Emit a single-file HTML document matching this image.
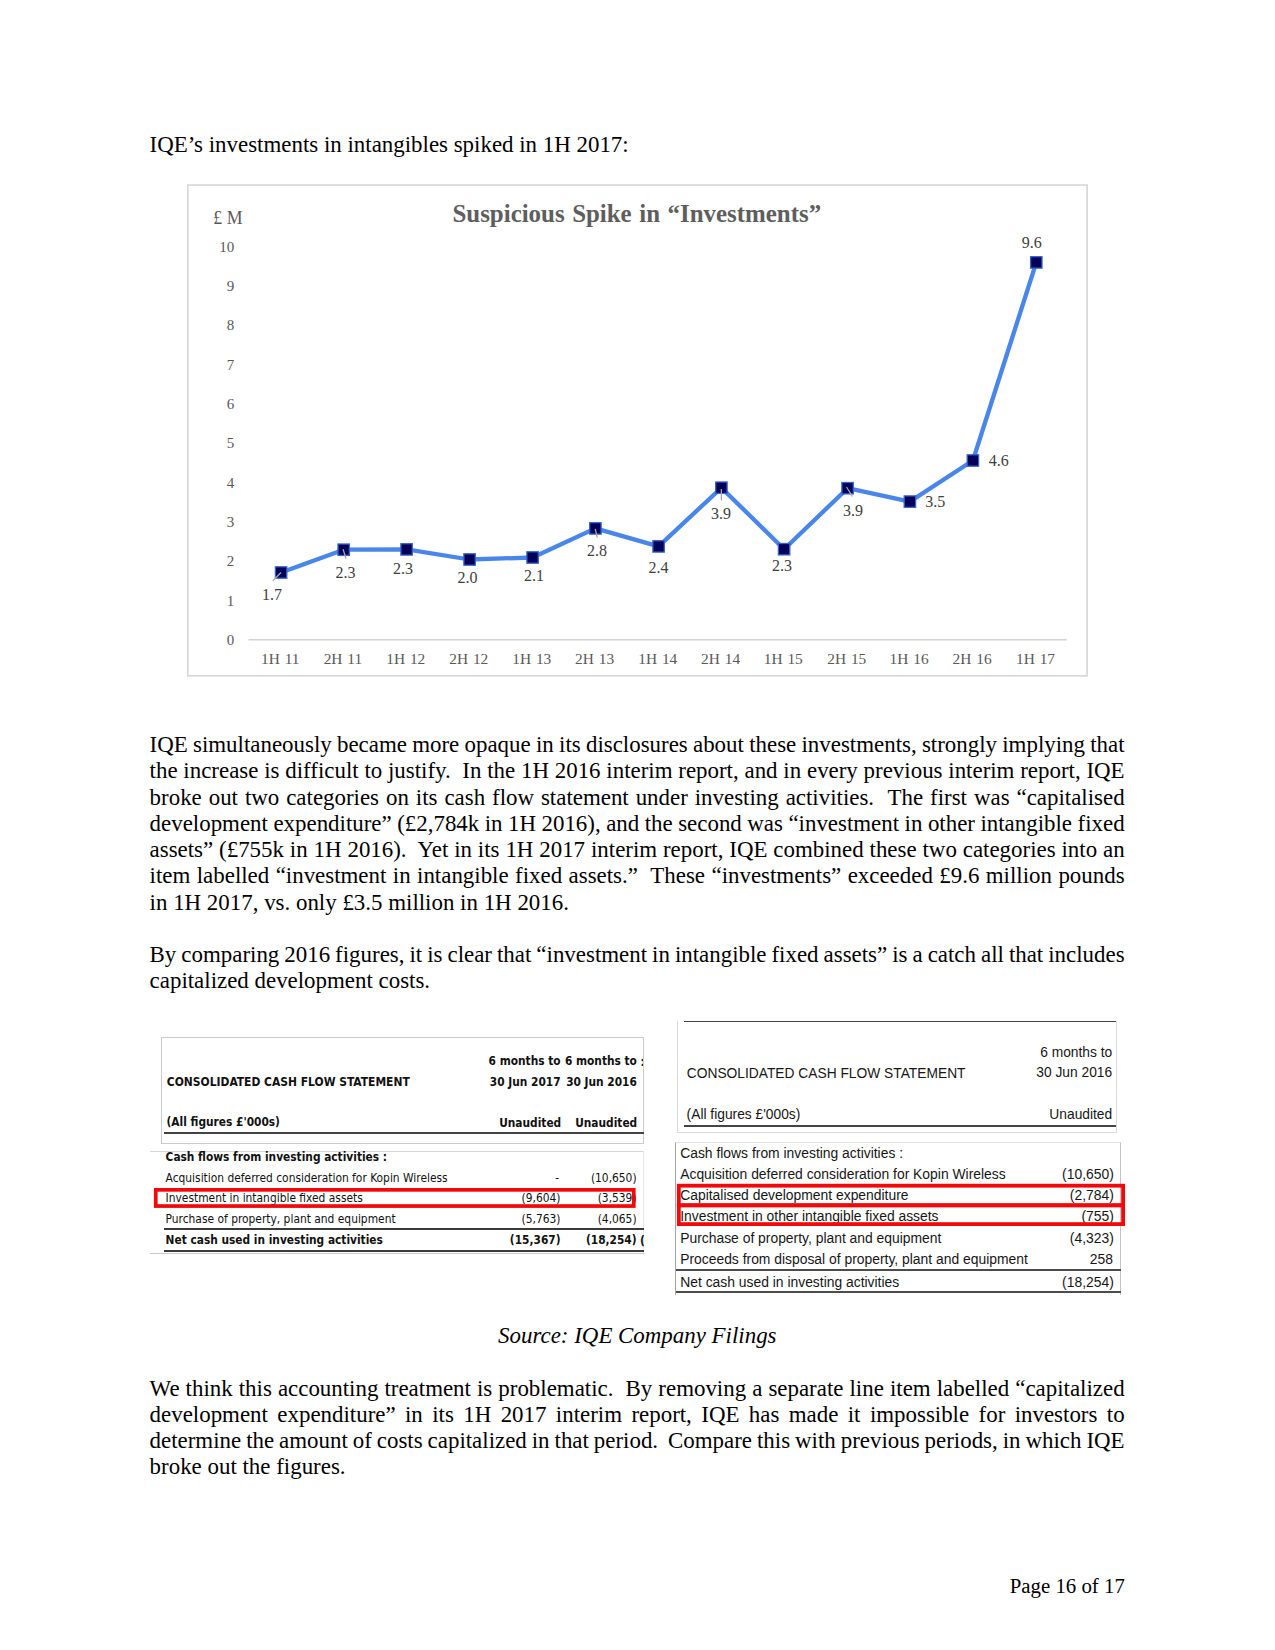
<!DOCTYPE html>
<html><head><meta charset="utf-8"><title>Page 16</title>
<style>
html,body{margin:0;padding:0;background:#fff;}
body{width:1275px;height:1650px;position:relative;overflow:hidden;font-family:"Liberation Serif","Times New Roman",serif;color:#000;}
.l{position:absolute;font-size:22.92px;line-height:26px;white-space:nowrap;height:26px;}
.abs{position:absolute;}
.t1{position:absolute;font-family:"DejaVu Sans Condensed","DejaVu Sans",sans-serif;font-size:11.88px;line-height:16px;white-space:nowrap;color:#111;}
.t1.b{font-weight:bold;font-size:11.8px;}
.t2{position:absolute;font-family:"Liberation Sans",Arial,sans-serif;font-size:13.79px;line-height:16px;white-space:nowrap;color:#161616;}
.r{text-align:right;}
.hl{position:absolute;height:0;}
</style></head><body>

<div class="l" style="left:149.6px;top:132.00px;">IQE’s investments in intangibles spiked in 1H 2017:</div>
<div class="l" style="left:149.6px;top:732.00px;word-spacing:-0.460px;">IQE simultaneously became more opaque in its disclosures about these investments, strongly implying that</div>
<div class="l" style="left:149.6px;top:758.25px;word-spacing:0.058px;">the increase is difficult to justify.&nbsp; In the 1H 2016 interim report, and in every previous interim report, IQE</div>
<div class="l" style="left:149.6px;top:784.50px;word-spacing:1.209px;">broke out two categories on its cash flow statement under investing activities.&nbsp; The first was “capitalised</div>
<div class="l" style="left:149.6px;top:810.75px;word-spacing:-0.240px;">development expenditure” (£2,784k in 1H 2016), and the second was “investment in other intangible fixed</div>
<div class="l" style="left:149.6px;top:837.00px;word-spacing:0.154px;">assets” (£755k in 1H 2016).&nbsp; Yet in its 1H 2017 interim report, IQE combined these two categories into an</div>
<div class="l" style="left:149.6px;top:863.25px;word-spacing:0.704px;">item labelled “investment in intangible fixed assets.”&nbsp; These “investments” exceeded £9.6 million pounds</div>
<div class="l" style="left:149.6px;top:889.50px;">in 1H 2017, vs. only £3.5 million in 1H 2016.</div>
<div class="l" style="left:149.6px;top:942.20px;word-spacing:-0.716px;">By comparing 2016 figures, it is clear that “investment in intangible fixed assets” is a catch all that includes</div>
<div class="l" style="left:149.6px;top:968.45px;">capitalized development costs.</div>
<div class="l" style="left:498.1px;top:1322.80px;"><i>Source: IQE Company Filings</i></div>
<div class="l" style="left:149.6px;top:1375.50px;word-spacing:0.329px;">We think this accounting treatment is problematic.&nbsp; By removing a separate line item labelled “capitalized</div>
<div class="l" style="left:149.6px;top:1401.75px;word-spacing:3.675px;">development expenditure” in its 1H 2017 interim report, IQE has made it impossible for investors to</div>
<div class="l" style="left:149.6px;top:1428.00px;word-spacing:-0.760px;">determine the amount of costs capitalized in that period.&nbsp; Compare this with previous periods, in which IQE</div>
<div class="l" style="left:149.6px;top:1454.25px;">broke out the figures.</div>
<div class="l" style="left:1009.7px;top:1573.70px;font-size:20.83px;line-height:24px;height:24px;">Page 16 of 17</div>
<svg class="abs" style="left:0;top:0" width="1275" height="700" viewBox="0 0 1275 700" font-family="Liberation Serif, Times New Roman, serif">
<rect x="187.8" y="185.05" width="899.3" height="490.75" fill="#fff" stroke="#d8d8d8" stroke-width="1.7"/>
<line x1="248.5" y1="639.7" x2="1066.9" y2="639.7" stroke="#d4d4d4" stroke-width="1.4"/>
<text x="452.5" y="222" font-size="24.9" font-weight="bold" fill="#5e5e5e" word-spacing="1.37">Suspicious Spike in “Investments”</text>
<text x="213.3" y="223.8" font-size="17.8" fill="#595959">£ M</text>
<text x="234.3" y="644.8" font-size="15" fill="#595959" text-anchor="end">0</text>
<text x="234.3" y="605.5" font-size="15" fill="#595959" text-anchor="end">1</text>
<text x="234.3" y="566.2" font-size="15" fill="#595959" text-anchor="end">2</text>
<text x="234.3" y="526.8" font-size="15" fill="#595959" text-anchor="end">3</text>
<text x="234.3" y="487.5" font-size="15" fill="#595959" text-anchor="end">4</text>
<text x="234.3" y="448.2" font-size="15" fill="#595959" text-anchor="end">5</text>
<text x="234.3" y="408.9" font-size="15" fill="#595959" text-anchor="end">6</text>
<text x="234.3" y="369.6" font-size="15" fill="#595959" text-anchor="end">7</text>
<text x="234.3" y="330.2" font-size="15" fill="#595959" text-anchor="end">8</text>
<text x="234.3" y="290.9" font-size="15" fill="#595959" text-anchor="end">9</text>
<text x="234.3" y="251.6" font-size="15" fill="#595959" text-anchor="end">10</text>
<text x="280.3" y="663.6" font-size="15.4" fill="#595959" text-anchor="middle" word-spacing="1">1H 11</text>
<text x="342.9" y="663.6" font-size="15.4" fill="#595959" text-anchor="middle" word-spacing="1">2H 11</text>
<text x="405.8" y="663.6" font-size="15.4" fill="#595959" text-anchor="middle" word-spacing="1">1H 12</text>
<text x="468.8" y="663.6" font-size="15.4" fill="#595959" text-anchor="middle" word-spacing="1">2H 12</text>
<text x="531.8" y="663.6" font-size="15.4" fill="#595959" text-anchor="middle" word-spacing="1">1H 13</text>
<text x="594.6" y="663.6" font-size="15.4" fill="#595959" text-anchor="middle" word-spacing="1">2H 13</text>
<text x="657.8" y="663.6" font-size="15.4" fill="#595959" text-anchor="middle" word-spacing="1">1H 14</text>
<text x="720.6" y="663.6" font-size="15.4" fill="#595959" text-anchor="middle" word-spacing="1">2H 14</text>
<text x="783.3" y="663.6" font-size="15.4" fill="#595959" text-anchor="middle" word-spacing="1">1H 15</text>
<text x="846.8" y="663.6" font-size="15.4" fill="#595959" text-anchor="middle" word-spacing="1">2H 15</text>
<text x="909.1" y="663.6" font-size="15.4" fill="#595959" text-anchor="middle" word-spacing="1">1H 16</text>
<text x="972.1" y="663.6" font-size="15.4" fill="#595959" text-anchor="middle" word-spacing="1">2H 16</text>
<text x="1035.5" y="663.6" font-size="15.4" fill="#595959" text-anchor="middle" word-spacing="1">1H 17</text>
<path d="M281.1 572.5 L343.7 549.7 L406.6 549.4 L469.6 559.5 L532.6 557.5 L595.4 528.4 L658.6 546.4 L721.4 487.7 L784.1 549.2 L847.6 488.2 L909.9 501.6 L972.9 460.5 L1036.3 262.4" fill="none" stroke="#4a86ea" stroke-width="4.3" stroke-linejoin="round" stroke-linecap="round"/>
<rect x="275.4" y="566.8" width="11.4" height="11.4" fill="#000058" stroke="#3563c9" stroke-width="1.3"/>
<rect x="338.0" y="544.0" width="11.4" height="11.4" fill="#000058" stroke="#3563c9" stroke-width="1.3"/>
<rect x="400.9" y="543.7" width="11.4" height="11.4" fill="#000058" stroke="#3563c9" stroke-width="1.3"/>
<rect x="463.9" y="553.8" width="11.4" height="11.4" fill="#000058" stroke="#3563c9" stroke-width="1.3"/>
<rect x="526.9" y="551.8" width="11.4" height="11.4" fill="#000058" stroke="#3563c9" stroke-width="1.3"/>
<rect x="589.7" y="522.7" width="11.4" height="11.4" fill="#000058" stroke="#3563c9" stroke-width="1.3"/>
<rect x="652.9" y="540.7" width="11.4" height="11.4" fill="#000058" stroke="#3563c9" stroke-width="1.3"/>
<rect x="715.7" y="482.0" width="11.4" height="11.4" fill="#000058" stroke="#3563c9" stroke-width="1.3"/>
<rect x="778.4" y="543.5" width="11.4" height="11.4" fill="#000058" stroke="#3563c9" stroke-width="1.3"/>
<rect x="841.9" y="482.5" width="11.4" height="11.4" fill="#000058" stroke="#3563c9" stroke-width="1.3"/>
<rect x="904.2" y="495.9" width="11.4" height="11.4" fill="#000058" stroke="#3563c9" stroke-width="1.3"/>
<rect x="967.2" y="454.8" width="11.4" height="11.4" fill="#000058" stroke="#3563c9" stroke-width="1.3"/>
<rect x="1030.6" y="256.7" width="11.4" height="11.4" fill="#000058" stroke="#3563c9" stroke-width="1.3"/>
<line x1="281" y1="572.5" x2="272.8" y2="580.8" stroke="#a8a8a8" stroke-width="1.3"/>
<line x1="343.1" y1="549.3" x2="345.9" y2="558.5" stroke="#a8a8a8" stroke-width="1.3"/>
<line x1="595.2" y1="528.8" x2="597.3" y2="537.5" stroke="#a8a8a8" stroke-width="1.3"/>
<line x1="721.3" y1="489" x2="721.4" y2="500.5" stroke="#a8a8a8" stroke-width="1.3"/>
<line x1="846.5" y1="487" x2="852.5" y2="496.5" stroke="#a8a8a8" stroke-width="1.3"/>
<text x="272.0" y="600.0" font-size="16" fill="#404040" text-anchor="middle">1.7</text>
<text x="345.6" y="578.3" font-size="16" fill="#404040" text-anchor="middle">2.3</text>
<text x="403.0" y="574.0" font-size="16" fill="#404040" text-anchor="middle">2.3</text>
<text x="467.5" y="583.0" font-size="16" fill="#404040" text-anchor="middle">2.0</text>
<text x="533.9" y="581.3" font-size="16" fill="#404040" text-anchor="middle">2.1</text>
<text x="596.9" y="556.2" font-size="16" fill="#404040" text-anchor="middle">2.8</text>
<text x="658.4" y="572.5" font-size="16" fill="#404040" text-anchor="middle">2.4</text>
<text x="720.9" y="519.3" font-size="16" fill="#404040" text-anchor="middle">3.9</text>
<text x="782.1" y="571.3" font-size="16" fill="#404040" text-anchor="middle">2.3</text>
<text x="852.9" y="515.6" font-size="16" fill="#404040" text-anchor="middle">3.9</text>
<text x="935.3" y="507.4" font-size="16" fill="#404040" text-anchor="middle">3.5</text>
<text x="998.8" y="466.2" font-size="16" fill="#404040" text-anchor="middle">4.6</text>
<text x="1031.8" y="248.3" font-size="16" fill="#404040" text-anchor="middle">9.6</text>
</svg>
<div class="abs" style="left:161px;top:1037px;width:481px;height:105px;border:1px solid #cbcbcb;box-sizing:content-box;"></div>
<div class="abs" style="left:164px;top:1131.6px;width:479.5px;height:2px;background:#444;"></div>
<div class="t1 b r" style="left:360.6px;width:200px;top:1053.20px;">6 months to</div>
<div class="t1 b r" style="left:436.9px;width:200px;top:1053.20px;">6 months to</div>
<div class="t1 b r" style="left:360.6px;width:200px;top:1073.50px;">30 Jun 2017</div>
<div class="t1 b r" style="left:436.9px;width:200px;top:1073.50px;">30 Jun 2016</div>
<div class="t1 b" style="left:166.8px;top:1073.60px;font-size:11.95px;">CONSOLIDATED CASH FLOW STATEMENT</div>
<div class="t1 b" style="left:166.5px;top:1114.40px;">(All figures £'000s)</div>
<div class="t1 b r" style="left:361.20000000000005px;width:200px;top:1115.00px;">Unaudited</div>
<div class="t1 b r" style="left:437.20000000000005px;width:200px;top:1115.00px;">Unaudited</div>
<div class="abs" style="left:640.5px;top:1056px;width:2.6px;height:12px;overflow:hidden;"><span class="t1 b" style="left:0;top:-2.3px;">:</span></div>
<div class="abs" style="left:150px;top:1150.6px;width:494px;height:1px;background:#d6d6d6;"></div>
<div class="abs" style="left:643.2px;top:1150.6px;width:1px;height:103px;background:#e8e8e8;"></div>
<div class="abs" style="left:150px;top:1252.8px;width:494px;height:1px;background:#c8c8c8;"></div>
<div class="t1 b" style="left:165.6px;top:1148.90px;">Cash flows from investing activities :</div>
<div class="t1" style="left:165.6px;top:1170.30px;">Acquisition deferred consideration for Kopin Wireless</div>
<div class="t1 r" style="left:359.0px;width:200px;top:1170.30px;">-</div>
<div class="t1 r" style="left:436.6px;width:200px;top:1170.30px;">(10,650)</div>
<div class="t1" style="left:165.6px;top:1190.30px;">Investment in intangible fixed assets</div>
<div class="t1 r" style="left:360.5px;width:200px;top:1190.30px;">(9,604)</div>
<div class="t1 r" style="left:436.6px;width:200px;top:1190.30px;">(3,539)</div>
<div class="t1" style="left:165.6px;top:1211.10px;">Purchase of property, plant and equipment</div>
<div class="t1 r" style="left:360.5px;width:200px;top:1211.10px;">(5,763)</div>
<div class="t1 r" style="left:436.6px;width:200px;top:1211.10px;">(4,065)</div>
<div class="t1 b" style="left:165.6px;top:1231.70px;">Net cash used in investing activities</div>
<div class="t1 b r" style="left:360.5px;width:200px;top:1231.70px;">(15,367)</div>
<div class="t1 b r" style="left:436.6px;width:200px;top:1231.70px;">(18,254)</div>
<div class="abs" style="left:640.1px;top:1232px;width:3.5px;height:18px;overflow:hidden;"><span class="t1 b" style="left:0;top:0.9px;">(</span></div>
<div class="abs" style="left:163.5px;top:1228.2px;width:480px;height:1.8px;background:#3a3a3a;"></div>
<div class="abs" style="left:163.5px;top:1249.9px;width:480px;height:1.8px;background:#3a3a3a;"></div>
<svg class="abs" style="left:0;top:1170px" width="1275" height="70" viewBox="0 1170 1275 70"><rect x="155.75" y="1189.85" width="478.0" height="16.2" fill="none" stroke="#f20808" stroke-width="3.7"/></svg>
<div class="abs" style="left:677.2px;top:1021px;width:438px;height:110.7px;border:1px solid #dadada;border-top:none;"></div>
<div class="abs" style="left:683.5px;top:1020.8px;width:432.7px;height:1.4px;background:#444;"></div>
<div class="abs" style="left:683.5px;top:1124.8px;width:432.7px;height:1.9px;background:#444;"></div>
<div class="t2 r" style="left:812.2px;width:300px;top:1044.55px;">6 months to</div>
<div class="t2 r" style="left:812.2px;width:300px;top:1065.35px;">30 Jun 2016</div>
<div class="t2" style="left:686.8px;top:1065.55px;">CONSOLIDATED CASH FLOW STATEMENT</div>
<div class="t2" style="left:686.6px;top:1107.15px;">(All figures £'000s)</div>
<div class="t2 r" style="left:812.2px;width:300px;top:1106.95px;">Unaudited</div>
<div class="abs" style="left:675px;top:1141.8px;width:444px;height:152px;border:1px solid #c4c4c4;border-left-color:#a4a4a4;border-top-color:#e4e4e4;border-bottom:none;"></div>
<div class="t2" style="left:680.2px;top:1144.65px;font-size:13.88px;">Cash flows from investing activities :</div>
<div class="t2" style="left:680.2px;top:1166.45px;font-size:13.88px;">Acquisition deferred consideration for Kopin Wireless</div>
<div class="t2 r" style="left:813.8px;width:300px;top:1166.45px;font-size:13.88px;">(10,650)</div>
<div class="t2" style="left:680.2px;top:1187.45px;font-size:13.88px;">Capitalised development expenditure</div>
<div class="t2 r" style="left:813.8px;width:300px;top:1187.45px;font-size:13.88px;">(2,784)</div>
<div class="t2" style="left:680.2px;top:1208.35px;font-size:13.88px;">Investment in other intangible fixed assets</div>
<div class="t2 r" style="left:813.8px;width:300px;top:1208.35px;font-size:13.88px;">(755)</div>
<div class="t2" style="left:680.2px;top:1230.15px;font-size:13.88px;">Purchase of property, plant and equipment</div>
<div class="t2 r" style="left:813.8px;width:300px;top:1230.15px;font-size:13.88px;">(4,323)</div>
<div class="t2" style="left:680.2px;top:1251.25px;font-size:13.88px;">Proceeds from disposal of property, plant and equipment</div>
<div class="t2 r" style="left:813.0px;width:300px;top:1251.25px;font-size:13.88px;">258</div>
<div class="t2" style="left:680.2px;top:1273.85px;font-size:13.88px;">Net cash used in investing activities</div>
<div class="t2 r" style="left:813.8px;width:300px;top:1273.85px;font-size:13.88px;">(18,254)</div>
<div class="abs" style="left:676px;top:1269.4px;width:445px;height:1.7px;background:#4c4c4c;"></div>
<div class="abs" style="left:676px;top:1291.0px;width:445px;height:1.9px;background:#4c4c4c;"></div>
<svg class="abs" style="left:0;top:1170px" width="1275" height="70" viewBox="0 1170 1275 70"><rect x="678.8" y="1185.7" width="444.3" height="19.5" fill="none" stroke="#f20808" stroke-width="3.8"/><rect x="678.8" y="1205.4" width="444.3" height="18.7" fill="none" stroke="#f20808" stroke-width="3.8"/></svg>
</body></html>
